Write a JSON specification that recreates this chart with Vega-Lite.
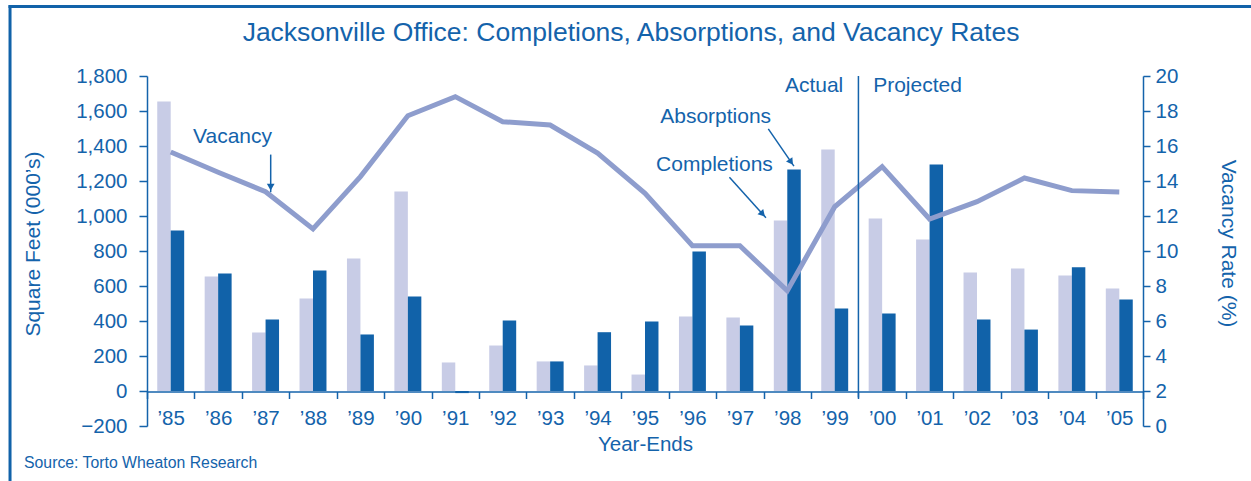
{
  "$schema": "https://vega.github.io/schema/vega-lite/v6.json",
  "width": 996,
  "height": 350,
  "autosize": "none",
  "padding": {"left": 147, "top": 76, "right": 108, "bottom": 55},
  "background": "white",
  "config": {
    "font": "Liberation Sans",
    "view": {"stroke": null},
    "axis": {"labelFont": "Liberation Sans", "titleFont": "Liberation Sans", "titleFontWeight": "normal", "grid": false}
  },
  "datasets": {
    "bars": [
      {"year": "’85", "series": "Completions", "value": 1655}, {"year": "’85", "series": "Absorptions", "value": 917},
      {"year": "’86", "series": "Completions", "value": 654}, {"year": "’86", "series": "Absorptions", "value": 671},
      {"year": "’87", "series": "Completions", "value": 334}, {"year": "’87", "series": "Absorptions", "value": 409},
      {"year": "’88", "series": "Completions", "value": 529}, {"year": "’88", "series": "Absorptions", "value": 689},
      {"year": "’89", "series": "Completions", "value": 757}, {"year": "’89", "series": "Absorptions", "value": 323},
      {"year": "’90", "series": "Completions", "value": 1140}, {"year": "’90", "series": "Absorptions", "value": 540},
      {"year": "’91", "series": "Completions", "value": 163}, {"year": "’91", "series": "Absorptions", "value": -12},
      {"year": "’92", "series": "Completions", "value": 260}, {"year": "’92", "series": "Absorptions", "value": 403},
      {"year": "’93", "series": "Completions", "value": 169}, {"year": "’93", "series": "Absorptions", "value": 169},
      {"year": "’94", "series": "Completions", "value": 146}, {"year": "’94", "series": "Absorptions", "value": 336},
      {"year": "’95", "series": "Completions", "value": 94}, {"year": "’95", "series": "Absorptions", "value": 397},
      {"year": "’96", "series": "Completions", "value": 426}, {"year": "’96", "series": "Absorptions", "value": 797},
      {"year": "’97", "series": "Completions", "value": 420}, {"year": "’97", "series": "Absorptions", "value": 374},
      {"year": "’98", "series": "Completions", "value": 974}, {"year": "’98", "series": "Absorptions", "value": 1266},
      {"year": "’99", "series": "Completions", "value": 1380}, {"year": "’99", "series": "Absorptions", "value": 471},
      {"year": "’00", "series": "Completions", "value": 986}, {"year": "’00", "series": "Absorptions", "value": 443},
      {"year": "’01", "series": "Completions", "value": 866}, {"year": "’01", "series": "Absorptions", "value": 1294},
      {"year": "’02", "series": "Completions", "value": 677}, {"year": "’02", "series": "Absorptions", "value": 409},
      {"year": "’03", "series": "Completions", "value": 700}, {"year": "’03", "series": "Absorptions", "value": 351},
      {"year": "’04", "series": "Completions", "value": 660}, {"year": "’04", "series": "Absorptions", "value": 707},
      {"year": "’05", "series": "Completions", "value": 586}, {"year": "’05", "series": "Absorptions", "value": 523}
    ],
    "vacancy": [
      {"year": "’85", "rate": 15.66}, {"year": "’86", "rate": 14.5}, {"year": "’87", "rate": 13.39},
      {"year": "’88", "rate": 11.26}, {"year": "’89", "rate": 14.25}, {"year": "’90", "rate": 17.73},
      {"year": "’91", "rate": 18.82}, {"year": "’92", "rate": 17.39}, {"year": "’93", "rate": 17.2},
      {"year": "’94", "rate": 15.6}, {"year": "’95", "rate": 13.3}, {"year": "’96", "rate": 10.3},
      {"year": "’97", "rate": 10.3}, {"year": "’98", "rate": 7.73}, {"year": "’99", "rate": 12.53},
      {"year": "’00", "rate": 14.82}, {"year": "’01", "rate": 11.83}, {"year": "’02", "rate": 12.82},
      {"year": "’03", "rate": 14.17}, {"year": "’04", "rate": 13.45}, {"year": "’05", "rate": 13.37}
    ],
    "arrows": [
      {"name": "Vacancy", "u": 2.608, "v": 1351, "u2": 2.608, "v2": 1136, "hu": 2.608, "hv": 1165, "angle": 180},
      {"name": "Absorptions", "u": 13.10, "v": 1498, "u2": 13.64, "v2": 1285, "hu": 13.58, "hv": 1308, "angle": 145.5},
      {"name": "Completions", "u": 12.28, "v": 1222, "u2": 13.05, "v2": 990, "hu": 12.98, "hv": 1011, "angle": 138}
    ],
    "labels": [
      {"label": "Vacancy", "u": 1.803, "v": 1418, "pos": "center"},
      {"label": "Absorptions", "u": 11.99, "v": 1533, "pos": "center"},
      {"label": "Completions", "u": 11.965, "v": 1256, "pos": "center"},
      {"label": "Actual", "u": 14.68, "v": 1706, "pos": "right"},
      {"label": "Projected", "u": 15.31, "v": 1706, "pos": "left"}
    ],
    "one": [{}]
  },
  "layer": [
    {
      "layer": [
        {
          "data": {"name": "bars"},
          "mark": {"type": "bar"},
          "encoding": {
            "x": {
              "field": "year", "type": "nominal",
              "sort": ["’85","’86","’87","’88","’89","’90","’91","’92","’93","’94","’95","’96","’97","’98","’99","’00","’01","’02","’03","’04","’05"],
              "scale": {"paddingInner": 0, "paddingOuter": 0},
              "axis": {
                "title": "Year-Ends", "orient": "bottom", "offset": -34.5, "tickBand": "extent", "labelAngle": 0,
                "domainColor": "#1463ab", "tickColor": "#1463ab", "labelColor": "#1463ab", "titleColor": "#1463ab",
                "domainWidth": 1.5, "tickWidth": 1.5, "tickSize": 7,
                "labelFontSize": 20.5, "titleFontSize": 20.5, "labelPadding": 10, "titlePadding": 5
              }
            },
            "xOffset": {"field": "series", "type": "nominal", "sort": ["Completions", "Absorptions"], "scale": {"paddingInner": 0, "paddingOuter": 0.76}},
            "y": {
              "field": "value", "type": "quantitative",
              "scale": {"domain": [-200, 1800], "nice": false, "zero": false},
              "axis": {
                "title": "Square Feet (000’s)", "values": [-200, 0, 200, 400, 600, 800, 1000, 1200, 1400, 1600, 1800], "format": ",.0f",
                "domainColor": "#1463ab", "tickColor": "#1463ab", "labelColor": "#1463ab", "titleColor": "#1463ab",
                "domainWidth": 1.5, "tickWidth": 1.5, "tickSize": 8,
                "labelFontSize": 20.5, "titleFontSize": 21, "labelPadding": 12, "titlePadding": 32, "titleY": 167.5
              }
            },
            "color": {"field": "series", "type": "nominal", "scale": {"domain": ["Completions", "Absorptions"], "range": ["#c8cce6", "#1162a9"]}, "legend": null}
          }
        },
        {
          "data": {"name": "vacancy"},
          "mark": {"type": "line", "color": "#8e9dcd", "strokeWidth": 5},
          "encoding": {
            "x": {"field": "year", "type": "nominal", "sort": ["’85","’86","’87","’88","’89","’90","’91","’92","’93","’94","’95","’96","’97","’98","’99","’00","’01","’02","’03","’04","’05"]},
            "y": {
              "field": "rate", "type": "quantitative",
              "scale": {"domain": [0, 20], "nice": false, "zero": false},
              "axis": {
                "title": "Vacancy Rate (%)", "orient": "right", "values": [0, 2, 4, 6, 8, 10, 12, 14, 16, 18, 20],
                "domainColor": "#1463ab", "tickColor": "#1463ab", "labelColor": "#1463ab", "titleColor": "#1463ab",
                "domainWidth": 1.5, "tickWidth": 1.5, "tickSize": 7,
                "labelFontSize": 20.5, "titleFontSize": 21, "labelPadding": 5, "titlePadding": 40, "titleY": 167
              }
            }
          }
        }
      ],
      "resolve": {"scale": {"y": "independent"}, "axis": {"y": "independent"}}
    },
    {
      "layer": [
        {
          "data": {"name": "arrows"},
          "mark": {"type": "rule", "color": "#1463ab", "strokeWidth": 1.5, "clip": false},
          "encoding": {
            "x": {"field": "u", "type": "quantitative", "scale": {"domain": [0, 21], "nice": false, "zero": false}, "axis": null},
            "y": {"field": "v", "type": "quantitative", "scale": {"domain": [-200, 1800], "nice": false, "zero": false}, "axis": null},
            "x2": {"field": "u2"},
            "y2": {"field": "v2"}
          }
        },
        {
          "data": {"name": "arrows"},
          "mark": {"type": "point", "shape": "triangle-up", "filled": true, "color": "#1463ab", "size": 60, "opacity": 1, "clip": false},
          "encoding": {
            "x": {"field": "hu", "type": "quantitative"},
            "y": {"field": "hv", "type": "quantitative"},
            "angle": {"field": "angle", "type": "quantitative", "scale": null}
          }
        },
        {
          "data": {"name": "one"},
          "mark": {"type": "rule", "color": "#1463ab", "strokeWidth": 1.5, "clip": false},
          "encoding": {
            "x": {"datum": 15, "type": "quantitative"},
            "y": {"datum": 1800, "type": "quantitative"},
            "y2": {"datum": -37}
          }
        },
        {
          "data": {"name": "labels"},
          "transform": [{"filter": "datum.pos === 'center'"}],
          "mark": {"type": "text", "align": "center", "baseline": "alphabetic", "fontSize": 21, "color": "#1463ab", "clip": false},
          "encoding": {
            "x": {"field": "u", "type": "quantitative"},
            "y": {"field": "v", "type": "quantitative"},
            "text": {"field": "label"}
          }
        },
        {
          "data": {"name": "labels"},
          "transform": [{"filter": "datum.pos === 'right'"}],
          "mark": {"type": "text", "align": "right", "baseline": "alphabetic", "fontSize": 21, "color": "#1463ab", "clip": false},
          "encoding": {
            "x": {"field": "u", "type": "quantitative"},
            "y": {"field": "v", "type": "quantitative"},
            "text": {"field": "label"}
          }
        },
        {
          "data": {"name": "labels"},
          "transform": [{"filter": "datum.pos === 'left'"}],
          "mark": {"type": "text", "align": "left", "baseline": "alphabetic", "fontSize": 21, "color": "#1463ab", "clip": false},
          "encoding": {
            "x": {"field": "u", "type": "quantitative"},
            "y": {"field": "v", "type": "quantitative"},
            "text": {"field": "label"}
          }
        },
        {
          "data": {"name": "one"},
          "mark": {"type": "text", "align": "center", "baseline": "alphabetic", "fontSize": 26.5, "color": "#1463ab", "clip": false},
          "encoding": {
            "x": {"datum": 10.205, "type": "quantitative"},
            "y": {"datum": 1999, "type": "quantitative"},
            "text": {"value": "Jacksonville Office: Completions, Absorptions, and Vacancy Rates"}
          }
        },
        {
          "data": {"name": "one"},
          "mark": {"type": "text", "align": "left", "baseline": "alphabetic", "fontSize": 15.8, "color": "#1463ab", "clip": false},
          "encoding": {
            "x": {"datum": -2.593, "type": "quantitative"},
            "y": {"datum": -439, "type": "quantitative"},
            "text": {"value": "Source: Torto Wheaton Research"}
          }
        },
        {
          "data": {"name": "one"},
          "mark": {"type": "rule", "color": "#1162a9", "strokeWidth": 3, "clip": false},
          "encoding": {
            "x": {"datum": -2.888, "type": "quantitative"},
            "y": {"datum": 2205, "type": "quantitative"},
            "y2": {"datum": -560}
          }
        },
        {
          "data": {"name": "one"},
          "mark": {"type": "rule", "color": "#1162a9", "strokeWidth": 3, "clip": false},
          "encoding": {
            "x": {"datum": -2.92, "type": "quantitative"},
            "x2": {"datum": 23.5},
            "y": {"datum": 2197, "type": "quantitative"}
          }
        }
      ]
    }
  ],
  "resolve": {"scale": {"x": "independent", "y": "independent"}, "axis": {"x": "independent", "y": "independent"}}
}
